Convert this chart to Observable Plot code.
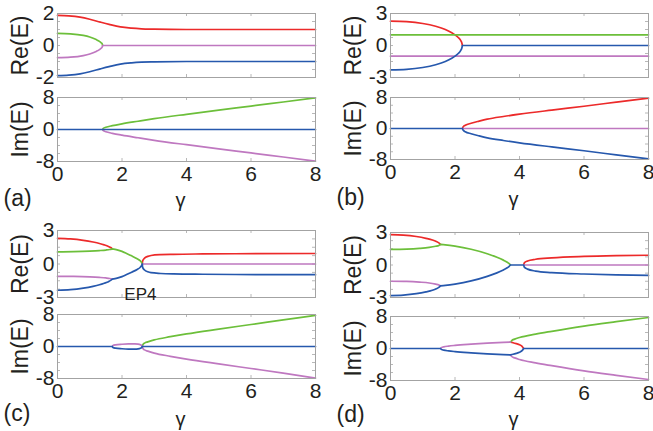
<!DOCTYPE html>
<html>
<head>
<meta charset="utf-8">
<script src="https://cdn.jsdelivr.net/npm/d3@7"></script>
<script src="https://cdn.jsdelivr.net/npm/@observablehq/plot@0.6"></script>
<style>
  html, body { margin: 0; padding: 0; background: #fff; }
  #fig { position: relative; width: 653px; height: 431px; overflow: hidden; background: #fff; }
  #fig svg { position: absolute; left: 0; top: 0; }
</style>
</head>
<body>
<div id="fig"></div>
<script>
// Eigenvalue spectra E(γ) of four coupled modes, real and imaginary parts,
// for four configurations (a)–(d). Each curve lists the visible branches of one
// eigenvalue as [γ, value] points; G separates branches at exceptional points.
// Stretches where an eigenvalue coincides with one drawn on top of it are left out.
const G = null;

const gammaTicks = [0, 2, 4, 6, 8];
const reTicksA = [-2, 0, 2];
const reTicks = [-3, 0, 3];
const imTicks = [-8, 0, 8];

// ---- (a)
const a_re_red = [[0,1.88],[0.35,1.85],[0.7,1.77],[1,1.64],[1.33,1.46],[1.6,1.32],[1.95,1.16],[2.3,1.08],[2.6,1.04],[3,1.02],[4,1.0],[6,1.0],[8,1.0]];
const a_re_green = [[0,0.76],[0.4,0.73],[0.8,0.63],[1,0.53],[1.2,0.37],[1.3,0.26],[1.36,0.16],[1.39,0.08],[1.4,0]];
const a_re_purple = [[0,-0.76],[0.4,-0.73],[0.8,-0.63],[1,-0.53],[1.2,-0.37],[1.3,-0.26],[1.36,-0.16],[1.39,-0.08],[1.4,0],G,[1.4,0],[8,0]];
const a_re_blue = [[0,-1.88],[0.35,-1.85],[0.7,-1.77],[1,-1.64],[1.33,-1.46],[1.6,-1.32],[1.95,-1.16],[2.3,-1.08],[2.6,-1.04],[3,-1.02],[4,-1.0],[6,-1.0],[8,-1.0]];
const a_im_red = []; // Im = 0 throughout, under the blue branch
const a_im_green = [[1.4,0],[1.42,0.3],[1.5,0.55],[1.7,0.95],[2,1.42],[2.5,2.07],[3,2.7],[4,3.8],[5,4.85],[6,5.85],[7,6.88],[8,7.9]];
const a_im_purple = [[1.4,0],[1.42,-0.3],[1.5,-0.55],[1.7,-0.95],[2,-1.42],[2.5,-2.07],[3,-2.7],[4,-3.8],[5,-4.85],[6,-5.85],[7,-6.88],[8,-7.9]];
const a_im_blue = [[0,0],[8,0]];

// ---- (b)
const b_re_red = [[0,2.28],[0.5,2.23],[1,2.06],[1.4,1.8],[1.7,1.5],[1.9,1.2],[2,1.0],[2.1,0.75],[2.17,0.5],[2.21,0.26],[2.23,0]];
const b_re_green = [[0,1],[8,1]];
const b_re_purple = [[0,-1],[8,-1]];
const b_re_blue = [[0,-2.28],[0.5,-2.23],[1,-2.06],[1.4,-1.8],[1.7,-1.5],[1.9,-1.2],[2,-1.0],[2.1,-0.75],[2.17,-0.5],[2.21,-0.26],[2.23,0],G,[2.23,0],[8,0]];
const b_im_red = [[2.23,0],[2.25,0.4],[2.32,0.85],[2.5,1.35],[2.75,1.9],[3,2.4],[3.5,3.1],[4,3.7],[5,4.75],[6,5.75],[7,6.8],[8,7.85]];
const b_im_green = []; // Im = 0 throughout, under the purple branch
const b_im_purple = [[2.23,0],[8,0]];
const b_im_blue = [[0,0],[2.23,0],G,[2.23,0],[2.25,-0.4],[2.32,-0.85],[2.5,-1.35],[2.75,-1.9],[3,-2.4],[3.5,-3.1],[4,-3.7],[5,-4.75],[6,-5.75],[7,-6.8],[8,-7.85]];

// ---- (c)
const c_re_red = [[0,2.3],[0.4,2.25],[0.8,2.12],[1.1,1.97],[1.3,1.84],[1.45,1.71],[1.58,1.57],[1.65,1.47],[1.7,1.36],G,[2.63,0],[2.64,0.28],[2.7,0.52],[2.8,0.68],[2.9,0.76],[3.2,0.84],[3.6,0.87],[4.5,0.9],[5.5,0.92],[8,0.94]];
const c_re_green = [[0,1.08],[0.5,1.1],[1,1.15],[1.3,1.2],[1.5,1.25],[1.62,1.3],[1.7,1.36],G,[1.7,1.36],[1.85,1.27],[2,1.13],[2.16,0.92],[2.3,0.73],[2.47,0.47],[2.56,0.3],[2.6,0.17],[2.63,0]];
const c_re_purple = [[0,-1.1],[0.5,-1.11],[1,-1.15],[1.3,-1.2],[1.5,-1.25],[1.62,-1.3],[1.7,-1.36],G,[2.63,0],[8,0]];
const c_re_blue = [[0,-2.35],[0.4,-2.3],[0.8,-2.16],[1.1,-2.0],[1.3,-1.86],[1.45,-1.72],[1.58,-1.58],[1.65,-1.47],[1.7,-1.36],G,[1.7,-1.36],[1.85,-1.27],[2,-1.13],[2.16,-0.92],[2.3,-0.73],[2.47,-0.49],[2.56,-0.31],[2.6,-0.17],[2.63,0],G,[2.63,0],[2.64,-0.3],[2.7,-0.54],[2.8,-0.7],[2.9,-0.78],[3.2,-0.85],[3.6,-0.89],[4.5,-0.92],[5.5,-0.94],[8,-0.96]];
const c_im_red = []; // hidden under the purple and blue branches
const c_im_green = [[2.63,0],[2.65,0.5],[2.7,0.85],[2.8,1.15],[3,1.65],[3.5,2.45],[4,3.15],[5,4.35],[6,5.5],[7,6.65],[8,7.8]];
const c_im_purple = [[1.7,0],[1.72,0.25],[1.8,0.42],[2,0.56],[2.2,0.64],[2.4,0.66],[2.5,0.6],[2.57,0.45],[2.61,0.25],[2.63,0],G,[2.63,0],[2.65,-0.5],[2.7,-0.85],[2.8,-1.15],[3,-1.65],[3.5,-2.45],[4,-3.15],[5,-4.35],[6,-5.5],[7,-6.65],[8,-7.9]];
const c_im_blue = [[0,0],[1.7,0],G,[1.7,0],[1.72,-0.25],[1.8,-0.42],[2,-0.56],[2.2,-0.64],[2.4,-0.66],[2.5,-0.6],[2.57,-0.45],[2.61,-0.25],[2.63,0],G,[2.63,0],[8,0]];

// ---- (d)
const d_re_red = [[0,2.8],[0.4,2.76],[0.8,2.63],[1.1,2.46],[1.3,2.31],[1.42,2.17],[1.5,2.04],[1.55,1.9],G,[4.13,0],[4.15,0.2],[4.25,0.37],[4.5,0.53],[5,0.66],[6,0.79],[7,0.86],[8,0.9]];
const d_re_green = [[0,1.45],[0.5,1.47],[0.9,1.53],[1.2,1.62],[1.4,1.73],[1.5,1.81],[1.55,1.9],G,[1.55,1.9],[1.7,1.86],[2,1.74],[2.5,1.45],[3,1.04],[3.3,0.72],[3.5,0.45],[3.62,0.25],[3.68,0.12],[3.72,0]];
const d_re_purple = [[0,-1.5],[0.5,-1.52],[0.9,-1.58],[1.2,-1.66],[1.4,-1.77],[1.5,-1.84],[1.55,-1.92],G,[4.13,0],[8,0]];
const d_re_blue = [[0,-2.82],[0.4,-2.78],[0.8,-2.65],[1.1,-2.48],[1.3,-2.33],[1.42,-2.19],[1.5,-2.06],[1.55,-1.92],G,[1.55,-1.92],[1.7,-1.88],[2,-1.76],[2.5,-1.47],[3,-1.05],[3.3,-0.73],[3.5,-0.46],[3.62,-0.26],[3.68,-0.12],[3.72,0],G,[3.72,0],[4.13,0],G,[4.13,0],[4.15,-0.2],[4.25,-0.38],[4.5,-0.56],[5,-0.7],[6,-0.83],[7,-0.91],[8,-0.96]];
const d_im_red = [[3.72,1.6],[3.8,1.45],[3.9,1.22],[4,0.95],[4.08,0.55],[4.13,0]];
const d_im_green = [[3.72,1.6],[3.76,2.0],[3.85,2.35],[4,2.75],[4.5,3.6],[5,4.3],[6,5.6],[7,6.7],[8,7.75]];
const d_im_purple = [[1.55,0],[1.58,0.22],[1.65,0.4],[1.8,0.6],[2,0.78],[2.5,1.08],[3,1.32],[3.5,1.52],[3.72,1.6],G,[3.72,-1.6],[3.76,-2.0],[3.85,-2.35],[4,-2.75],[4.5,-3.6],[5,-4.3],[6,-5.6],[7,-6.7],[8,-7.75]];
const d_im_blue = [[0,0],[1.55,0],G,[1.55,0],[1.58,-0.22],[1.65,-0.4],[1.8,-0.6],[2,-0.78],[2.5,-1.08],[3,-1.32],[3.5,-1.52],[3.72,-1.6],G,[3.72,-1.6],[3.8,-1.45],[3.9,-1.22],[4,-0.95],[4.08,-0.55],[4.13,0],G,[4.13,0],[8,0]];

const colors = {red: "#ec2a2a", green: "#6cbf3a", purple: "#bf78c0", blue: "#2658ad"};
const textColor = "#231f20";
const font = "'Liberation Sans', Arial, sans-serif";
const W = 653, H = 431;

// Frame boxes of each subplot, in page pixels, and label offsets below the Im frame.
const panels = [
  {tag: "(a)", left: 57, right: 315, re: [13, 77], im: [97, 161], reTicks: reTicksA, tagDy: 37, gDy: 39,
   re_: [a_re_red, a_re_green, a_re_purple, a_re_blue], im_: [a_im_red, a_im_green, a_im_purple, a_im_blue]},
  {tag: "(b)", left: 390, right: 648, re: [13, 77], im: [97, 159], reTicks, tagDy: 38, gDy: 40,
   re_: [b_re_red, b_re_green, b_re_purple, b_re_blue], im_: [b_im_red, b_im_green, b_im_purple, b_im_blue]},
  {tag: "(c)", left: 57, right: 315, re: [230, 297], im: [314, 378], reTicks, tagDy: 35, gDy: 41, ep4: true,
   re_: [c_re_red, c_re_green, c_re_purple, c_re_blue], im_: [c_im_red, c_im_green, c_im_purple, c_im_blue]},
  {tag: "(d)", left: 390, right: 648, re: [232, 297], im: [316, 380], reTicks, tagDy: 34, gDy: 39,
   re_: [d_re_red, d_re_green, d_re_purple, d_re_blue], im_: [d_im_red, d_im_green, d_im_purple, d_im_blue]}
];

const order = ["red", "green", "purple", "blue"];
const pts = (arr) => arr.map((p) => (p ? p : [NaN, NaN]));

function subplot(p, part) {
  const [top, bottom] = part === "re" ? p.re : p.im;
  const yTicks = part === "re" ? p.reTicks : imTicks;
  const yDomain = [yTicks[0], yTicks[2]];
  const fw = p.right - p.left, fh = bottom - top;
  const minorY = d3.range(0, 9).map((i) => yDomain[0] + (i * (yDomain[1] - yDomain[0])) / 8);
  const curves = part === "re" ? p.re_ : p.im_;
  const marks = [
    // short inward ticks along all four sides
    Plot.ruleY(minorY, {insetRight: fw - 3, stroke: "#b8b8b8"}),
    Plot.ruleY(minorY, {insetLeft: fw - 3, stroke: "#b8b8b8"}),
    Plot.ruleX(gammaTicks, {insetBottom: fh - 3, stroke: "#b8b8b8"}),
    Plot.ruleX(gammaTicks, {insetTop: fh - 3, stroke: "#b8b8b8"}),
    ...curves.map((c, i) =>
      Plot.line(pts(c), {x: (d) => d[0], y: (d) => d[1], stroke: colors[order[i]], strokeWidth: 1.7, curve: "monotone-x"})
    ),
    Plot.frame({stroke: "#a3a3a3"}),
    Plot.axisY(yTicks, {tickSize: 0, tickPadding: 3, fontSize: 21, tickFormat: (d) => String(d), label: null}),
    Plot.text([part === "re" ? "Re(E)" : "Im(E)"], {
      frameAnchor: "left", textAnchor: "middle", lineAnchor: "middle",
      dx: -37, rotate: -90, fontSize: 23
    })
  ];
  if (part === "im") {
    marks.push(
      Plot.axisX(gammaTicks, {tickSize: 0, tickPadding: 5, fontSize: 21, label: null}),
      Plot.text(["γ"], {frameAnchor: "bottom", textAnchor: "middle", lineAnchor: "middle", dx: -6, dy: p.gDy, fontSize: 20}),
      Plot.text([p.tag], {frameAnchor: "bottom-left", textAnchor: "start", lineAnchor: "middle", dx: -54, dy: p.tagDy, fontSize: 23})
    );
  }
  if (part === "re" && p.ep4) {
    marks.push(Plot.text(["EP4"], {x: 2.57, frameAnchor: "bottom", textAnchor: "middle", lineAnchor: "bottom", dy: 2, fontSize: 17}));
  }
  return Plot.plot({
    width: W, height: H,
    marginLeft: p.left, marginRight: W - p.right,
    marginTop: top, marginBottom: H - bottom,
    x: {domain: [0, 8], axis: part === "im" ? undefined : null},
    y: {domain: yDomain},
    style: {background: "none", color: textColor, fontFamily: font, overflow: "visible"},
    marks
  });
}

const fig = document.getElementById("fig");
for (const p of panels) {
  fig.appendChild(subplot(p, "re"));
  fig.appendChild(subplot(p, "im"));
}
</script>
</body>
</html>
